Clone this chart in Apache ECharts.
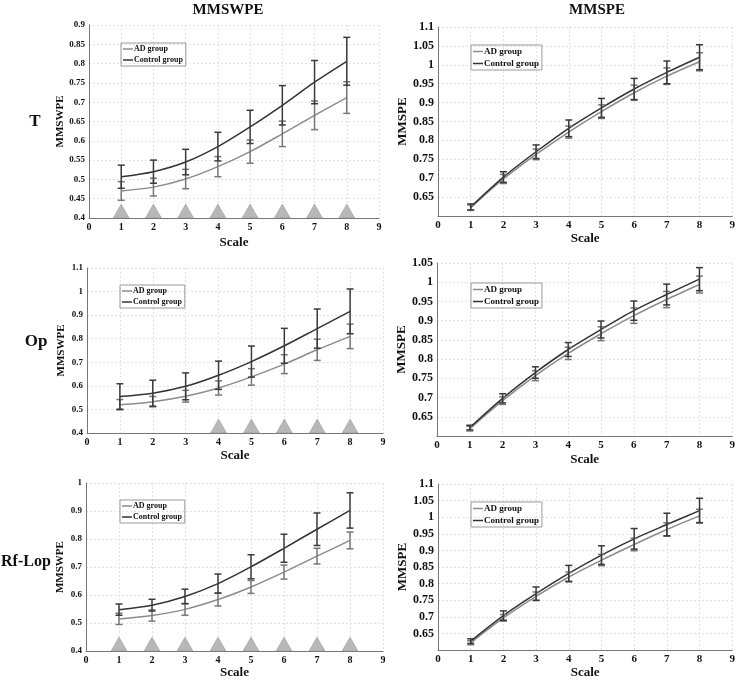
<!DOCTYPE html>
<html>
<head>
<meta charset="utf-8">
<script src="https://cdn.jsdelivr.net/npm/echarts@6/dist/echarts.min.js"></script>
<style>
  html, body { margin: 0; padding: 0; background: #fff; }
  #chart { width: 738px; height: 680px; }
</style>
</head>
<body>
<div id="chart"></div>
<script>
// scales on the x axis
const scales = [1, 2, 3, 4, 5, 6, 7, 8];

// T - MMSWPE
const tSwpeAd = [0.470, 0.480, 0.501, 0.533, 0.572, 0.618, 0.666, 0.712];
const tSwpeAdErr = [0.024, 0.023, 0.025, 0.026, 0.030, 0.033, 0.037, 0.041];
const tSwpeCtrl = [0.507, 0.520, 0.545, 0.585, 0.636, 0.692, 0.752, 0.806];
const tSwpeCtrlErr = [0.030, 0.030, 0.033, 0.037, 0.043, 0.051, 0.056, 0.062];
// T - MMSPE
const tSpeAd = [0.622, 0.698, 0.763, 0.822, 0.876, 0.926, 0.970, 1.008];
const tSpeAdErr = [0.007, 0.012, 0.014, 0.016, 0.018, 0.020, 0.022, 0.024];
const tSpeCtrl = [0.624, 0.703, 0.770, 0.832, 0.886, 0.936, 0.980, 1.020];
const tSpeCtrlErr = [0.008, 0.014, 0.018, 0.022, 0.025, 0.028, 0.030, 0.033];

// Op - MMSWPE
const opSwpeAd = [0.520, 0.533, 0.556, 0.591, 0.638, 0.692, 0.753, 0.810];
const opSwpeAdErr = [0.022, 0.022, 0.025, 0.030, 0.035, 0.040, 0.045, 0.052];
const opSwpeCtrl = [0.555, 0.569, 0.598, 0.645, 0.703, 0.770, 0.843, 0.916];
const opSwpeCtrlErr = [0.054, 0.055, 0.057, 0.060, 0.066, 0.074, 0.083, 0.095];
// Op - MMSPE
const opSpeAd = [0.619, 0.692, 0.757, 0.815, 0.866, 0.913, 0.955, 0.994];
const opSpeAdErr = [0.006, 0.010, 0.013, 0.016, 0.018, 0.020, 0.021, 0.022];
const opSpeCtrl = [0.622, 0.698, 0.765, 0.825, 0.877, 0.926, 0.968, 1.008];
const opSpeCtrlErr = [0.006, 0.012, 0.015, 0.018, 0.022, 0.025, 0.027, 0.030];

// Rf-Lop - MMSWPE
const rfSwpeAd = [0.515, 0.527, 0.549, 0.584, 0.629, 0.682, 0.739, 0.795];
const rfSwpeAdErr = [0.020, 0.020, 0.021, 0.023, 0.023, 0.025, 0.028, 0.030];
const rfSwpeCtrl = [0.548, 0.564, 0.595, 0.641, 0.701, 0.767, 0.835, 0.902];
const rfSwpeCtrlErr = [0.020, 0.021, 0.026, 0.034, 0.043, 0.050, 0.058, 0.063];
// Rf-Lop - MMSPE
const rfSpeAd = [0.622, 0.697, 0.762, 0.820, 0.871, 0.918, 0.963, 1.004];
const rfSpeAdErr = [0.006, 0.010, 0.013, 0.015, 0.017, 0.019, 0.020, 0.020];
const rfSpeCtrl = [0.627, 0.704, 0.770, 0.831, 0.886, 0.935, 0.978, 1.020];
const rfSpeCtrlErr = [0.007, 0.014, 0.020, 0.024, 0.028, 0.031, 0.034, 0.037];

// scales marked with a triangle (significant difference)
const tMarks = [1, 2, 3, 4, 5, 6, 7, 8];
const opMarks = [4, 5, 6, 7, 8];
const rfMarks = [1, 2, 3, 4, 5, 6, 7, 8];

const colAd = "#8c8c8c";
const colCtrl = "#333333";
const font = "'Liberation Serif', 'DejaVu Serif', serif";

const panels = [
  { grid: { left: 89, top: 25, width: 290, height: 193 }, y: [0.4, 0.9, 0.05], name: "MMSWPE", gap: 18,
    ad: tSwpeAd, adErr: tSwpeAdErr, ctrl: tSwpeCtrl, ctrlErr: tSwpeCtrlErr, marks: tMarks, legend: [121, 43] },
  { grid: { left: 438, top: 27, width: 297, height: 189 }, y: [0.6, 1.1, 0.05], name: "MMSPE", gap: 15,
    ad: tSpeAd, adErr: tSpeAdErr, ctrl: tSpeCtrl, ctrlErr: tSpeCtrlErr, marks: [], legend: [471, 45] },
  { grid: { left: 87, top: 268, width: 296, height: 165 }, y: [0.4, 1.1, 0.1], name: "MMSWPE", gap: 16,
    ad: opSwpeAd, adErr: opSwpeAdErr, ctrl: opSwpeCtrl, ctrlErr: opSwpeCtrlErr, marks: opMarks, legend: [120, 285] },
  { grid: { left: 437, top: 263, width: 299, height: 173 }, y: [0.6, 1.05, 0.05], name: "MMSPE", gap: 17,
    ad: opSpeAd, adErr: opSpeAdErr, ctrl: opSpeCtrl, ctrlErr: opSpeCtrlErr, marks: [], legend: [471, 283] },
  { grid: { left: 86, top: 483, width: 297, height: 170 }, y: [0.4, 1.0, 0.1], name: "MMSWPE", gap: 14,
    ad: rfSwpeAd, adErr: rfSwpeAdErr, ctrl: rfSwpeCtrl, ctrlErr: rfSwpeCtrlErr, marks: rfMarks, legend: [120, 500] },
  { grid: { left: 438, top: 484, width: 298, height: 170 }, y: [0.6, 1.1, 0.05], name: "MMSPE", gap: 13,
    ad: rfSpeAd, adErr: rfSpeAdErr, ctrl: rfSpeCtrl, ctrlErr: rfSpeCtrlErr, marks: [], legend: [471, 502] }
];

const chart = echarts.init(document.getElementById("chart"));

// vertical error bar with caps
const errorBars = (name, idx, means, errs, color) => ({
  type: "custom",
  name: name,
  xAxisIndex: idx,
  yAxisIndex: idx,
  z: 3,
  encode: { x: 0, y: [1, 2] },
  data: scales.map((s, i) => [s, means[i] - errs[i], means[i] + errs[i]]),
  renderItem: (params, api) => {
    const lo = api.coord([api.value(0), api.value(1)]);
    const hi = api.coord([api.value(0), api.value(2)]);
    const w = 3.5;
    const style = { stroke: color, lineWidth: 1.5 };
    return {
      type: "group",
      children: [
        { type: "line", shape: { x1: lo[0], y1: lo[1], x2: hi[0], y2: hi[1] }, style },
        { type: "line", shape: { x1: lo[0] - w, y1: lo[1], x2: lo[0] + w, y2: lo[1] }, style },
        { type: "line", shape: { x1: hi[0] - w, y1: hi[1], x2: hi[0] + w, y2: hi[1] }, style }
      ]
    };
  }
});

const tickLabel = { color: "#111", fontFamily: font, fontWeight: "bold", fontSize: 10 };
const dotted = { show: true, lineStyle: { color: "#dcdcdc", type: [2, 2], width: 0.8 } };

const grid = [], xAxis = [], yAxis = [], legend = [], series = [];

panels.forEach((p, i) => {
  const spe = p.name === "MMSPE";
  grid.push(p.grid);
  xAxis.push({
    type: "value", gridIndex: i, min: 0, max: 9, interval: 1,
    name: "Scale", nameLocation: "middle", nameGap: p.gap,
    nameTextStyle: { fontFamily: font, fontWeight: "bold", fontSize: 13, color: "#111" },
    axisLine: { lineStyle: { color: "#777", width: 1 } },
    axisTick: { show: false },
    axisLabel: Object.assign({ margin: 4 }, tickLabel, { fontSize: spe ? 11 : 10 }),
    splitLine: dotted
  });
  yAxis.push({
    type: "value", gridIndex: i, min: p.y[0], max: p.y[1], interval: p.y[2],
    name: p.name, nameLocation: "middle", nameGap: spe ? 22 : 20,
    nameTextStyle: { fontFamily: font, fontWeight: "bold", fontSize: spe ? 13 : 11, color: "#111" },
    axisLine: { show: true, lineStyle: { color: "#777", width: 1 } },
    axisTick: { show: false },
    axisLabel: Object.assign({
      margin: 4,
      formatter: v => (spe && v < 0.61) ? "" : String(+v.toFixed(2))
    }, tickLabel, { fontSize: spe ? 12 : 9 }),
    splitLine: dotted
  });
  legend.push({
    left: p.legend[0], top: p.legend[1], orient: "vertical",
    data: ["AD group", "Control group"],
    icon: "rect", itemWidth: 10, itemHeight: 1.5,
    borderColor: "#999", borderWidth: 1, padding: [2, 3, 2, 2], itemGap: 3,
    selectedMode: false,
    textStyle: { fontFamily: font, fontWeight: "bold", fontSize: spe ? 9 : 8, color: "#111", padding: [0, 0, 0, -4] }
  });

  // significance triangles sitting on the bottom axis
  series.push({
    type: "scatter", xAxisIndex: i, yAxisIndex: i, z: 1,
    symbol: "triangle", symbolSize: [16, 14], symbolOffset: [0, -7],
    itemStyle: { color: "#a6a6a6", borderColor: "#8a8a8a", borderWidth: 0.5 },
    data: p.marks.map(m => [m, p.y[0]]),
    silent: true
  });

  series.push({
    type: "line", name: "AD group", xAxisIndex: i, yAxisIndex: i, z: 2,
    smooth: 0.3, symbol: "none", lineStyle: { color: colAd, width: 1.5 },
    itemStyle: { color: colAd },
    data: scales.map((s, k) => [s, p.ad[k]])
  });
  series.push({
    type: "line", name: "Control group", xAxisIndex: i, yAxisIndex: i, z: 2,
    smooth: 0.3, symbol: "none", lineStyle: { color: colCtrl, width: 1.5 },
    itemStyle: { color: colCtrl },
    data: scales.map((s, k) => [s, p.ctrl[k]])
  });
  series.push(errorBars("AD err", i, p.ad, p.adErr, "#777"));
  series.push(errorBars("Control err", i, p.ctrl, p.ctrlErr, "#3a3a3a"));
});

const label = (text, x, y, size, align) => ({
  type: "text", x: x, y: y,
  style: { text: text, font: "bold " + size + "px " + font, fill: "#111", align: align || "center", verticalAlign: "middle" }
});

chart.setOption({
  animation: false,
  backgroundColor: "#fff",
  grid: grid,
  xAxis: xAxis,
  yAxis: yAxis,
  legend: legend,
  series: series,
  graphic: [
    label("MMSWPE", 228, 10, 15),
    label("MMSPE", 597, 10, 15),
    label("T", 35, 122, 17),
    label("Op", 36, 342, 17),
    label("Rf-Lop", 1, 562, 16, "left")
  ]
});

window.addEventListener("resize", () => chart.resize());
</script>
</body>
</html>
